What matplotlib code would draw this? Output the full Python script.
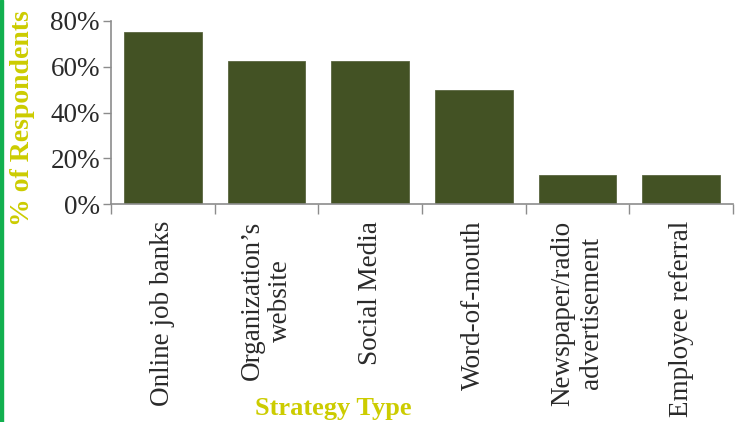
import matplotlib.pyplot as plt
from matplotlib.ticker import FixedLocator, PercentFormatter
from matplotlib.patches import Rectangle

# survey results: share of respondents per recruiting strategy
categories = ["Online job banks", "Organization\u2019s\nwebsite", "Social Media",
              "Word-of-mouth", "Newspaper/radio\nadvertisement", "Employee referral"]
shares = [75.0, 62.5, 62.5, 50.0, 12.5, 12.5]
y_ticks = [0, 20, 40, 60, 80]

bar_color = "#435224"
title_color = "#cccc00"
spine_color = "#8c8c8c"
text_color = "#2a2a2a"

plt.rcParams["font.family"] = ["Liberation Serif", "DejaVu Serif"]

fig = plt.figure(figsize=(7.4, 4.22), dpi=100)
ax = fig.add_axes([111 / 740, 1 - 204 / 422, 622 / 740, 183 / 422])

x = range(len(categories))
ax.bar(x, shares, width=0.75, color=bar_color, edgecolor="#5a6640", linewidth=0.6)

ax.set_xlim(-0.5, len(categories) - 0.5)
ax.set_ylim(0, 80)
ax.set_yticks(y_ticks)
ax.yaxis.set_major_formatter(PercentFormatter(decimals=0))
ax.tick_params(axis="y", labelsize=19.5, labelcolor=text_color, length=6, width=1,
               color=spine_color, direction="out", pad=2)

# category labels at bar centres, tick marks at category boundaries
ax.set_xticks(list(x))
ax.set_xticklabels(categories, rotation=90, fontsize=19.5, color=text_color,
                   ha="center", va="top", multialignment="center")
ax.tick_params(axis="x", which="major", length=0, pad=12)
ax.xaxis.set_minor_locator(FixedLocator([i - 0.5 for i in range(len(categories) + 1)]))
ax.tick_params(axis="x", which="minor", length=7, width=1, color=spine_color,
               direction="out")

for side in ["top", "right"]:
    ax.spines[side].set_visible(False)
for side in ["left", "bottom"]:
    ax.spines[side].set_color(spine_color)
    ax.spines[side].set_linewidth(1.2)

fig.text(23 / 740, 1 - 118 / 422, "% of Respondents", rotation=90, ha="center",
         va="center", fontsize=20, fontweight="bold", color=title_color)
fig.text(333 / 740, 1 - 409 / 422, "Strategy Type", ha="center", va="center",
         fontsize=19, fontweight="bold", color=title_color)

# green rule down the left edge
fig.patches.append(Rectangle((0, 0), 3 / 740, 1, transform=fig.transFigure,
                             color="#12b04f", zorder=0))

fig.savefig("out.png", dpi=100)
